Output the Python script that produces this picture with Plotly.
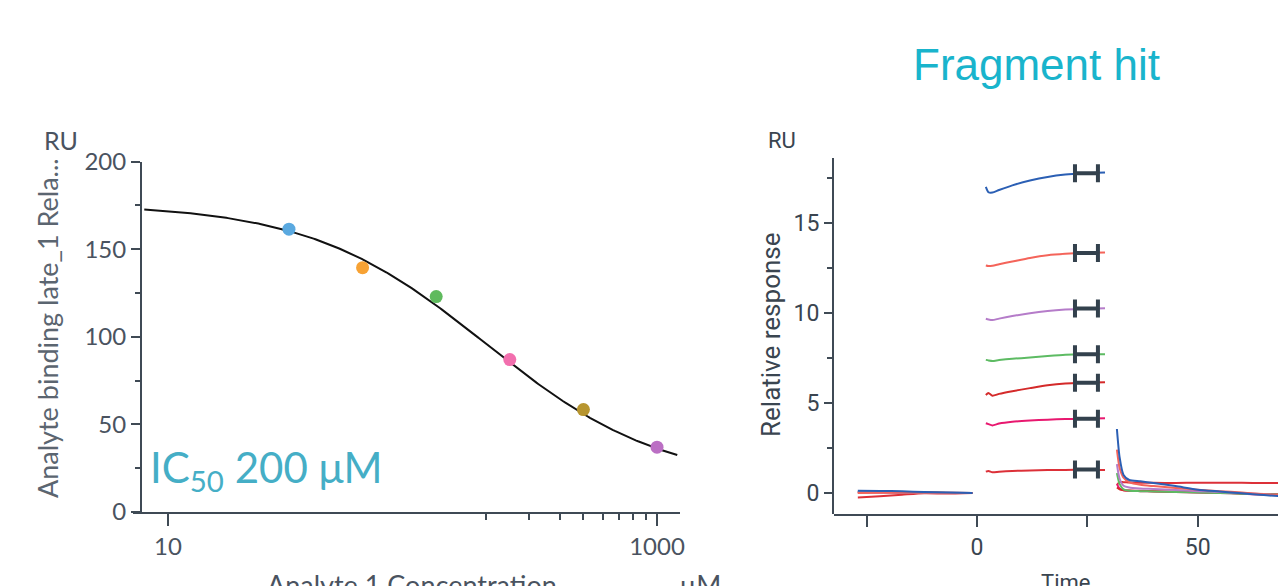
import numpy as np
import plotly.graph_objects as go

# ---------------- Left panel: dose-response ----------------
conc_um = [31.25, 62.5, 125, 250, 500, 1000]
binding_ru = [161.5, 139.5, 123.0, 87.0, 58.5, 37.0]
point_colors = ["#5aa9e0", "#f7a234", "#5fba5d", "#f26fae", "#b7952f", "#bb6fc4"]

# four-parameter logistic fit
fit_top = 176.0
fit_bottom = 16.0
fit_ic50 = 200.0
fit_hill = 1.2
fit_span = [8.0, 1210.0]

# ---------------- Right panel: sensorgrams ----------------
t_base = [-27, -22, -17, -12, -7, -1]
t_assoc = [2, 2.6, 3.5, 5, 8, 12, 16, 20, 24, 29]
t_diss = [31.7, 32.3, 33.2, 34.5, 37, 40, 45, 50, 55, 60, 65, 68.5]

series_names = ["c1", "c2", "c3", "c4", "c5", "c6", "c7"]
series_colors = ["#dc3038", "#e8186f", "#d42a2a", "#5dbb63", "#b57cc9", "#f4645a", "#2b5fb4"]

base_vals = [
    [-0.25, -0.18, -0.1, -0.02, -0.03, 0.0],
    [0.05, 0.04, 0.03, 0.02, 0.01, 0.0],
    [0.02, 0.02, 0.02, 0.01, 0.0, 0.0],
    [0.06, 0.05, 0.04, 0.03, 0.01, 0.0],
    [0.04, 0.04, 0.03, 0.02, 0.01, 0.0],
    [0.0, 0.02, 0.03, 0.02, 0.0, 0.0],
    [0.12, 0.11, 0.09, 0.05, 0.02, 0.0],
]
assoc_vals = [
    [1.18, 1.22, 1.15, 1.18, 1.22, 1.25, 1.27, 1.28, 1.28, 1.28],
    [3.87, 3.82, 3.75, 3.85, 3.95, 4.02, 4.07, 4.1, 4.12, 4.15],
    [5.44, 5.55, 5.4, 5.5, 5.65, 5.82, 5.98, 6.08, 6.12, 6.15],
    [7.39, 7.36, 7.33, 7.38, 7.45, 7.52, 7.6, 7.67, 7.7, 7.7],
    [9.67, 9.63, 9.6, 9.68, 9.82, 9.98, 10.1, 10.18, 10.23, 10.26],
    [12.63, 12.6, 12.62, 12.7, 12.85, 13.05, 13.2, 13.28, 13.33, 13.35],
    [17.0, 16.7, 16.68, 16.82, 17.08, 17.35, 17.55, 17.68, 17.75, 17.8],
]
diss_vals = [
    [0.45, 0.6, 0.6, 0.58, 0.57, 0.56, 0.55, 0.57, 0.57, 0.56, 0.55, 0.55],
    [0.5, 0.25, 0.15, 0.12, 0.1, 0.08, 0.05, 0.02, 0.0, -0.05, -0.1, -0.12],
    [0.3, 0.2, 0.15, 0.13, 0.12, 0.1, 0.07, 0.04, 0.02, -0.02, -0.06, -0.08],
    [1.1, 0.5, 0.2, 0.12, 0.1, 0.08, 0.05, 0.02, 0.0, -0.04, -0.08, -0.1],
    [1.6, 0.8, 0.4, 0.3, 0.25, 0.22, 0.16, 0.1, 0.05, 0.0, -0.08, -0.12],
    [2.4, 1.4, 0.85, 0.6, 0.45, 0.38, 0.28, 0.18, 0.1, 0.02, -0.08, -0.12],
    [3.55, 2.0, 1.0, 0.72, 0.65, 0.55, 0.38, 0.18, 0.08, -0.02, -0.12, -0.18],
]

# report-point markers
report_time = 24.8
report_halfwidth = 2.6
report_vals = [1.3, 4.12, 6.12, 7.7, 10.24, 13.33, 17.75]

# ------------------------------------------------------------
W, H = 1278, 586
AXIS = "#3f4a55"
LEFT_FONT = "Lato"
RIGHT_FONT = "Roboto"


def px_x(p):
    return p / W


def px_y(p):
    return 1 - p / H


fig = go.Figure()

# fitted curve
xs = np.logspace(np.log10(fit_span[0]), np.log10(fit_span[1]), 300)
ys = fit_bottom + (fit_top - fit_bottom) / (1 + (xs / fit_ic50) ** fit_hill)
fig.add_trace(go.Scatter(x=xs, y=ys, mode="lines", line=dict(color="#111111", width=2),
                         xaxis="x", yaxis="y", showlegend=False, hoverinfo="skip"))
fig.add_trace(go.Scatter(x=conc_um, y=binding_ru, mode="markers",
                         marker=dict(color=point_colors, size=13),
                         xaxis="x", yaxis="y", showlegend=False))

# sensorgrams
for name, col, b, a, d in zip(series_names, series_colors, base_vals, assoc_vals, diss_vals):
    tx = list(t_base) + [None] + list(t_assoc) + [None] + list(t_diss)
    ty = list(b) + [None] + list(a) + [None] + list(d)
    fig.add_trace(go.Scatter(x=tx, y=ty, mode="lines", name=name,
                             line=dict(color=col, width=2, shape="spline", smoothing=0.6),
                             xaxis="x2", yaxis="y2", showlegend=False))

fig.add_trace(go.Scatter(
    x=[report_time] * len(report_vals), y=report_vals, mode="markers",
    marker=dict(size=1, color="rgba(0,0,0,0)"),
    error_x=dict(type="constant", value=report_halfwidth, color="#33414d",
                 thickness=4, width=9),
    xaxis="x2", yaxis="y2", showlegend=False))

tickfont_l = dict(family=LEFT_FONT, size=24, color="#4a5360")
tickfont_r = dict(family=RIGHT_FONT, size=23, color="#3a4550")

fig.update_layout(
    width=W, height=H,
    margin=dict(l=0, r=0, t=0, b=0, autoexpand=False),
    paper_bgcolor="white", plot_bgcolor="white",
    xaxis=dict(
        type="log", domain=[px_x(133), px_x(680)],
        range=[0.857, 3.094], anchor="y",
        showgrid=False, zeroline=False, showline=True, linecolor=AXIS, linewidth=2,
        ticks="outside", ticklen=12, tickwidth=2, tickcolor=AXIS,
        tickvals=[10, 1000], ticktext=["10", "1000"], tickfont=tickfont_l,
        minor=dict(tickvals=[200, 300, 400, 500, 600, 700, 800, 900],
                   ticks="outside", ticklen=6, tickwidth=2, tickcolor=AXIS),
    ),
    yaxis=dict(
        domain=[px_y(512), px_y(161.7)], range=[0, 200],
        anchor="free", position=px_x(141),
        showgrid=False, zeroline=False, showline=True, linecolor=AXIS, linewidth=2,
        ticks="outside", ticklen=9, tickwidth=2, tickcolor=AXIS,
        tickvals=[0, 50, 100, 150, 200], tickfont=tickfont_l,
        minor=dict(tickvals=[25, 75, 125, 175], ticks="outside", ticklen=5,
                   tickwidth=2, tickcolor=AXIS),
    ),
    xaxis2=dict(
        domain=[px_x(834), 1.0], range=[-32.4, 68.2], anchor="y2",
        showgrid=False, zeroline=False, showline=True, linecolor=AXIS, linewidth=2,
        ticks="outside", ticklen=11, tickwidth=2, tickcolor=AXIS,
        tickvals=[0, 50], tickfont=tickfont_r,
        minor=dict(tickvals=[-25, 25], ticks="outside", ticklen=11,
                   tickwidth=2, tickcolor=AXIS),
    ),
    yaxis2=dict(
        domain=[px_y(514), px_y(158)], range=[-1.17, 18.6],
        anchor="free", position=px_x(833),
        showgrid=False, zeroline=False, showline=True, linecolor=AXIS, linewidth=2,
        ticks="outside", ticklen=8, tickwidth=2, tickcolor=AXIS,
        tickvals=[0, 5, 10, 15], tickfont=tickfont_r,
        minor=dict(tickvals=[2.5, 7.5, 12.5, 17.5], ticks="outside", ticklen=5,
                   tickwidth=2, tickcolor=AXIS),
    ),
)

ann = [
    # left panel labels
    dict(text="RU", x=px_x(61), y=px_y(140), font=dict(family=LEFT_FONT, size=25, color="#4a5360")),
    dict(text="Analyte binding late_1 Rela...", x=px_x(47), y=px_y(328), textangle=-90,
         font=dict(family=LEFT_FONT, size=27, color="#5b6570")),
    dict(text="Analyte 1 Concentration", x=px_x(412), y=px_y(566), yanchor="top",
         font=dict(family=LEFT_FONT, size=27, color="#4a5360")),
    dict(text="μM", x=px_x(700), y=px_y(566), yanchor="top",
         font=dict(family=LEFT_FONT, size=27, color="#4a5360")),
    dict(text=f"IC<sub>50</sub> {fit_ic50:.0f} μM", x=px_x(148), y=px_y(470), xanchor="left",
         font=dict(family=LEFT_FONT, size=42, color="#45aec6")),
    # right panel labels
    dict(text="Fragment hit", x=px_x(1036), y=px_y(65),
         font=dict(family="Liberation Sans", size=44, color="#19b4cc")),
    dict(text="RU", x=px_x(782), y=px_y(140), font=dict(family=RIGHT_FONT, size=22, color="#3a4550")),
    dict(text="Relative response", x=px_x(771), y=px_y(335), textangle=-90,
         font=dict(family=RIGHT_FONT, size=26, color="#3a4550")),
    dict(text="Time", x=px_x(1065), y=px_y(568), yanchor="top",
         font=dict(family=RIGHT_FONT, size=22, color="#3a4550")),
]
for a in ann:
    a.setdefault("xanchor", "center")
    a.setdefault("yanchor", "middle")
    fig.add_annotation(xref="paper", yref="paper", showarrow=False, **a)

fig.write_html("out.html")
